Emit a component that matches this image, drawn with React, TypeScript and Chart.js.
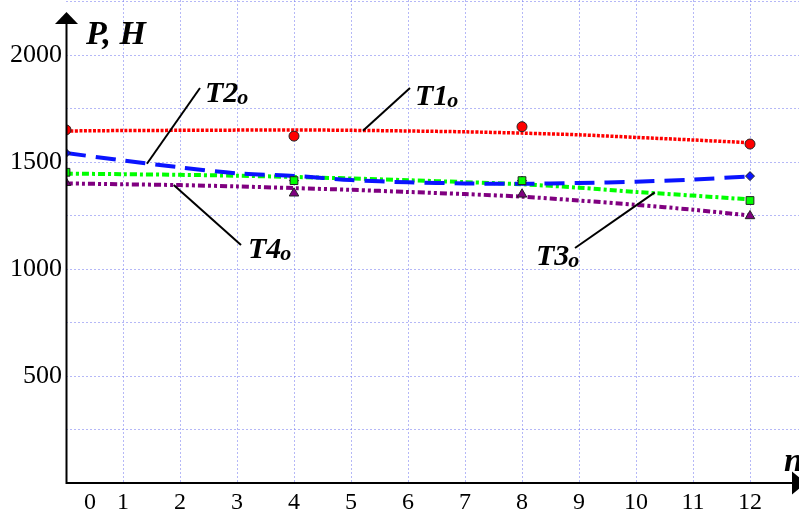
import { useEffect, useRef } from "react";
import { Chart, registerables } from "chart.js";

Chart.register(...registerables);

// ---- data ----
const nLine = [0, 1, 2, 3, 4, 5, 6, 7, 8, 9, 10, 11, 12];
const t1Line = [1645, 1647, 1648, 1649, 1650, 1648, 1645, 1641, 1635, 1627, 1615, 1603, 1590];
const t2Line = [1542, 1507, 1475, 1447, 1435, 1416, 1405, 1400, 1398, 1402, 1408, 1418, 1433];
const t3Line = [1446, 1443, 1440, 1436, 1430, 1423, 1415, 1406, 1396, 1380, 1360, 1343, 1325];
const t4Line = [1400, 1396, 1392, 1386, 1378, 1370, 1360, 1350, 1338, 1320, 1300, 1277, 1250];

const nMarks = [0, 4, 8, 12];
const t1Marks = [1650, 1621, 1665, 1584];
const t2Marks = [1542, 1413, 1413, 1434];
const t3Marks = [1452, 1413, 1413, 1320];
const t4Marks = [1403, 1354, 1349, 1248];

const xTicks = [0, 1, 2, 3, 4, 5, 6, 7, 8, 9, 10, 11, 12];
const xTickLabels = ["0", "1", "2", "3", "4", "5", "6", "7", "8", "9", "10", "11", "12"];
const yTicks = [250, 500, 750, 1000, 1250, 1500, 1750, 2000, 2250];
const yTickLabels = ["", "500", "", "1000", "", "1500", "", "2000", ""];

const seriesNames = ["T1", "T2", "T3", "T4"];
const seriesSub = "o";
const yAxisTitle = "P, H";
const xAxisTitle = "n";

// ---- styling / layout ----
const SERIF = "'Liberation Serif', 'Times New Roman', serif";
const GRID = "rgba(120,125,240,0.55)";
const ZERO_LABEL_SHIFT = 0.42;

const pts = (xs: number[], ys: number[]) => xs.map((x, i) => ({ x, y: ys[i] }));

// annotation placement (label pixel position, leader start pixel, leader end in data coords)
const annotations = [
  { name: seriesNames[0], lx: 415, ly: 105, sx: 410, sy: 88, ex: 5.21, ey: 1646 },
  { name: seriesNames[1], lx: 205, ly: 102, sx: 200, sy: 88, ex: 1.42, ey: 1492 },
  { name: seriesNames[2], lx: 536, ly: 265, sx: 575, sy: 248, ex: 10.33, ey: 1358 },
  { name: seriesNames[3], lx: 248, ly: 258, sx: 241, sy: 245, ex: 1.89, ey: 1393 },
];

const overlay = {
  id: "overlay",
  afterDraw(chart: any) {
    const ctx = chart.ctx as CanvasRenderingContext2D;
    const xs = chart.scales.x;
    const ys = chart.scales.y;
    const ox = Math.round(xs.getPixelForValue(0)) + 0.5;
    const oy = Math.round(ys.getPixelForValue(0));
    ctx.save();
    // axes
    ctx.strokeStyle = "#000";
    ctx.fillStyle = "#000";
    ctx.lineWidth = 2;
    ctx.beginPath();
    ctx.moveTo(ox, oy);
    ctx.lineTo(ox, 16);
    ctx.moveTo(ox - 1, oy);
    ctx.lineTo(chart.width, oy);
    ctx.stroke();
    // y arrow
    ctx.beginPath();
    ctx.moveTo(ox, 12);
    ctx.lineTo(ox + 11.5, 24);
    ctx.lineTo(ox - 11.5, 24);
    ctx.closePath();
    ctx.fill();
    // x arrow
    ctx.beginPath();
    ctx.moveTo(806, oy);
    ctx.lineTo(792, oy - 11.5);
    ctx.lineTo(792, oy + 11.5);
    ctx.closePath();
    ctx.fill();

    // axis titles
    ctx.textBaseline = "alphabetic";
    ctx.textAlign = "left";
    ctx.font = `italic bold 34px ${SERIF}`;
    ctx.fillText(yAxisTitle, 86, 44);
    ctx.fillText(xAxisTitle, 784, 471);

    // series annotations
    ctx.lineWidth = 2;
    for (const a of annotations) {
      const ex = xs.getPixelForValue(a.ex);
      const ey = ys.getPixelForValue(a.ey);
      ctx.beginPath();
      ctx.moveTo(a.sx, a.sy);
      ctx.lineTo(ex, ey);
      ctx.stroke();
      ctx.font = `italic bold 30px ${SERIF}`;
      ctx.fillText(a.name, a.lx, a.ly);
      const w = ctx.measureText(a.name).width;
      ctx.font = `italic bold 22px ${SERIF}`;
      ctx.fillText(seriesSub, a.lx + w - 1, a.ly + 2);
    }
    ctx.restore();
  },
};

export default function App() {
  const ref = useRef<HTMLCanvasElement | null>(null);

  useEffect(() => {
    if (!ref.current) return;
    const lineBase = { pointRadius: 0, fill: false, tension: 0.3, borderCapStyle: "butt" as const, order: 2 };
    const markBase = { showLine: false, borderWidth: 1, pointBorderColor: "#222", order: 1 };
    const chart = new Chart(ref.current, {
      type: "line",
      data: {
        datasets: [
          { ...lineBase, label: seriesNames[0], data: pts(nLine, t1Line), borderColor: "#ff0000", borderWidth: 3.5, borderDash: [3, 1.5] },
          { ...lineBase, label: seriesNames[1], data: pts(nLine, t2Line), borderColor: "#0a14ff", borderWidth: 4, borderDash: [20, 10] },
          { ...lineBase, label: seriesNames[2], data: pts(nLine, t3Line), borderColor: "#00ff00", borderWidth: 4, borderDash: [7, 3, 3, 3] },
          { ...lineBase, label: seriesNames[3], data: pts(nLine, t4Line), borderColor: "#800080", borderWidth: 4, borderDash: [7, 3, 3, 3, 3, 3] },
          { ...markBase, label: seriesNames[1] + " pts", data: pts(nMarks, t2Marks), pointStyle: "rectRot", pointRadius: 4.5, pointBackgroundColor: "#0a14ff", borderColor: "#0a14ff" },
          { ...markBase, label: seriesNames[0] + " pts", data: pts(nMarks, t1Marks), pointStyle: "circle", pointRadius: 5, pointBackgroundColor: "#ff0000", borderColor: "#ff0000" },
          { ...markBase, label: seriesNames[3] + " pts", data: pts(nMarks, t4Marks), pointStyle: "triangle", pointRadius: 5.5, pointBackgroundColor: "#800080", borderColor: "#800080" },
          { ...markBase, label: seriesNames[2] + " pts", data: pts(nMarks, t3Marks), pointStyle: "rect", pointRadius: 5.5, pointBackgroundColor: "#00ff00", borderColor: "#00ff00", order: 0 },
        ],
      },
      options: {
        animation: false,
        responsive: true,
        maintainAspectRatio: false,
        layout: { padding: 0, autoPadding: false },
        plugins: { legend: { display: false }, tooltip: { enabled: false } },
        scales: {
          x: {
            type: "linear",
            min: 0,
            max: 733 / 57,
            afterBuildTicks: (s: any) => {
              s.ticks = xTicks.map((v) => ({ value: v === 0 ? v + ZERO_LABEL_SHIFT : v }));
            },
            afterFit: (s: any) => {
              s.height = 30;
              s.paddingLeft = 0;
              s.paddingRight = 0;
            },
            ticks: {
              autoSkip: false,
              maxRotation: 0,
              padding: 5,
              color: "#000",
              font: { family: SERIF, size: 24 },
              callback: (_v: any, i: number) => xTickLabels[i],
            },
            grid: {
              drawTicks: false,
              color: (c: any) => (c.index === 0 ? "rgba(0,0,0,0)" : GRID),
              lineWidth: 1,
            },
            border: { display: false, dash: [2, 2] },
          },
          y: {
            type: "linear",
            min: 0,
            max: 483 / 0.214,
            afterBuildTicks: (s: any) => {
              s.ticks = yTicks.map((v) => ({ value: v }));
            },
            afterFit: (s: any) => {
              s.width = 66;
              s.paddingTop = 0;
              s.paddingBottom = 0;
            },
            ticks: {
              autoSkip: false,
              padding: 4,
              color: "#000",
              font: { family: SERIF, size: 26 },
              callback: (_v: any, i: number) => yTickLabels[i],
            },
            grid: { drawTicks: false, color: GRID, lineWidth: 1 },
            border: { display: false, dash: [2, 2] },
          },
        },
      },
      plugins: [overlay],
    });
    return () => chart.destroy();
  }, []);

  return (
    <div style={{ position: "fixed", left: 0, top: 0, width: 799, height: 513, background: "#fff" }}>
      <canvas ref={ref} />
    </div>
  );
}
